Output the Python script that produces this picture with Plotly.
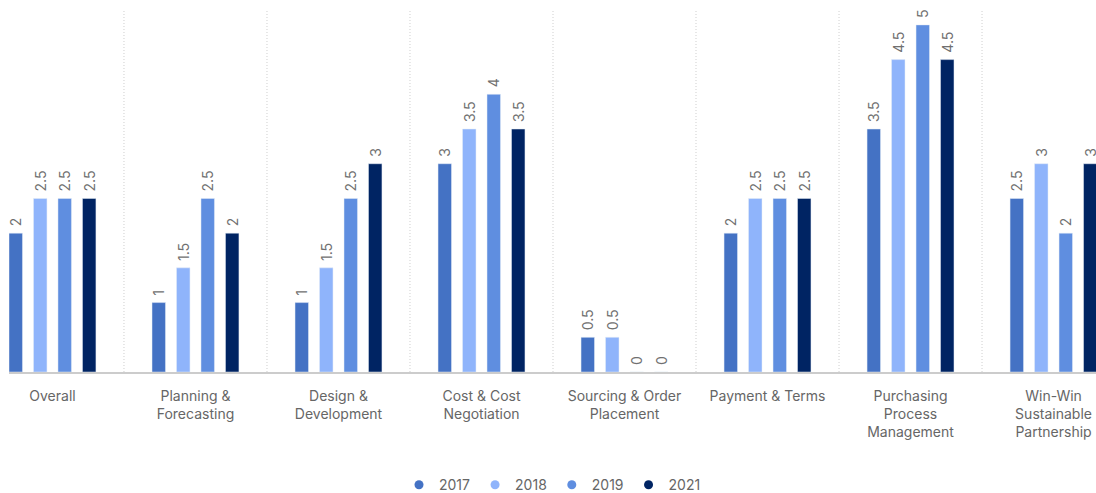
import plotly.graph_objects as go

categories = ["Overall", "Planning &<br>Forecasting", "Design &<br>Development",
              "Cost & Cost<br>Negotiation", "Sourcing & Order<br>Placement",
              "Payment & Terms", "Purchasing<br>Process<br>Management",
              "Win-Win<br>Sustainable<br>Partnership"]
years = ["2017", "2018", "2019", "2021"]
v2017 = [2, 1, 1, 3, 0.5, 2, 3.5, 2.5]
v2018 = [2.5, 1.5, 1.5, 3.5, 0.5, 2.5, 4.5, 3]
v2019 = [2.5, 2.5, 2.5, 4, 0, 2.5, 5, 2]
v2021 = [2.5, 2, 3, 3.5, 0, 2.5, 4.5, 3]
series = [v2017, v2018, v2019, v2021]
colors = ["#4472c4", "#8fb4fb", "#5f8ee0", "#002463"]

FONT = "Inter, Roboto, sans-serif"
fig = go.Figure()
for name, vals, col in zip(years, series, colors):
    fig.add_trace(go.Bar(
        x=categories, y=vals, name=name, marker_color=col, showlegend=False,
        text=["\u00a0" + f"{v:g}" for v in vals], textposition="outside", textangle=-90,
        constraintext="none",
        textfont=dict(size=14, color="#707070", family=FONT), cliponaxis=False,
    ))
for name, col in zip(years, colors):
    fig.add_trace(go.Scatter(
        x=[None], y=[None], mode="markers", name=name,
        marker=dict(symbol="circle", size=9, color=col),
    ))

shapes = []
for i in range(len(categories) - 1):
    shapes.append(dict(type="line", xref="x", yref="paper", x0=i + 0.5, x1=i + 0.5,
                       y0=0, y1=1, line=dict(color="#cfcfcf", width=1, dash="1px,2px"), layer="below"))

fig.update_layout(
    width=1096, height=493,
    margin=dict(l=9, r=0, t=11, b=121),
    paper_bgcolor="white", plot_bgcolor="white",
    barmode="group", bargap=0.315, bargroupgap=0.45,
    font=dict(family=FONT, size=14, color="#666666"),
    shapes=shapes,
    uniformtext=dict(mode=False),
    xaxis=dict(range=[-0.304, 7.297], showgrid=False, showline=True, linecolor="#cccccc",
               linewidth=2, ticks="", tickfont=dict(size=14, color="#666666"), tickangle=0,
               ticklabelstandoff=10),
    yaxis=dict(range=[0, 5.2], visible=False, showgrid=False, zeroline=False),
    legend=dict(orientation="h", xanchor="center", x=0.5, yref="container", y=0.016,
                yanchor="middle", font=dict(size=14, color="#666666"),
                itemwidth=30, tracegroupgap=0),
)
fig.write_html("out.html")
